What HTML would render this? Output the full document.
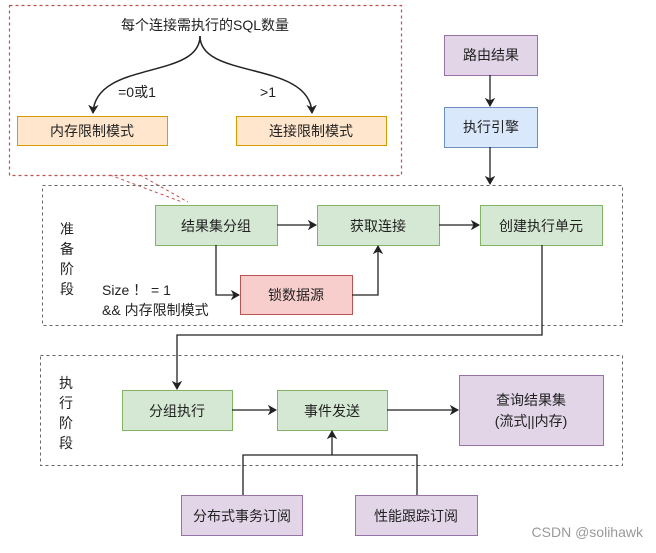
<!DOCTYPE html>
<html><head><meta charset="utf-8"><style>
body{margin:0;background:#fff;}
text{font-family:"Liberation Sans","Noto Sans CJK SC",sans-serif;font-size:14px;fill:#222;}
</style></head><body>
<svg width="656" height="548" viewBox="0 0 656 548" xmlns="http://www.w3.org/2000/svg">
<defs>
<marker id="a" markerWidth="10" markerHeight="10" refX="8" refY="5" orient="auto" markerUnits="userSpaceOnUse">
<path d="M1,1 L8,5 L1,9 L3,5 Z" fill="#222" stroke="#222" stroke-width="1"/></marker>
</defs>
<!-- red dashed box -->
<rect x="9.5" y="5.5" width="392" height="170" fill="none" stroke="#c0504d" stroke-dasharray="3,3" stroke-width="1.2"/>
<line x1="110" y1="175" x2="182" y2="202" stroke="#c0504d" stroke-dasharray="3,3"/>
<line x1="140" y1="175" x2="188" y2="202" stroke="#c0504d" stroke-dasharray="3,3"/>
<text x="205" y="30" text-anchor="middle" font-size="15">每个连接需执行的SQL数量</text>
<path d="M200,36 C200,80 95,60 93,113" fill="none" stroke="#222" stroke-width="1.5" marker-end="url(#a)"/>
<path d="M200,36 C200,80 310,60 312,113" fill="none" stroke="#222" stroke-width="1.5" marker-end="url(#a)"/>
<text x="137" y="97" text-anchor="middle">=0或1</text>
<text x="268" y="97" text-anchor="middle">&gt;1</text>
<rect x="17.5" y="116.5" width="150" height="29" fill="#ffe6cc" stroke="#d79b00"/>
<text x="92" y="136" text-anchor="middle">内存限制模式</text>
<rect x="236.5" y="116.5" width="150" height="29" fill="#ffe6cc" stroke="#d79b00"/>
<text x="311" y="136" text-anchor="middle">连接限制模式</text>
<!-- top right -->
<rect x="444.5" y="35.5" width="93" height="40" fill="#e1d5e7" stroke="#9673a6"/>
<text x="491" y="60" text-anchor="middle">路由结果</text>
<rect x="444.5" y="107.5" width="93" height="40" fill="#dae8fc" stroke="#6c8ebf"/>
<text x="491" y="132" text-anchor="middle">执行引擎</text>
<line x1="490" y1="75" x2="490" y2="106" stroke="#222" stroke-width="1.3" marker-end="url(#a)"/>
<line x1="490" y1="147" x2="490" y2="184" stroke="#222" stroke-width="1.3" marker-end="url(#a)"/>
<!-- prep stage -->
<rect x="42.5" y="185.5" width="580" height="140" fill="none" stroke="#666" stroke-dasharray="3,3"/>
<text x="67" y="234" text-anchor="middle">准</text>
<text x="67" y="254" text-anchor="middle">备</text>
<text x="67" y="274" text-anchor="middle">阶</text>
<text x="67" y="294" text-anchor="middle">段</text>
<rect x="155.5" y="205.5" width="122" height="40" fill="#d5e8d4" stroke="#82b366"/>
<text x="216" y="231" text-anchor="middle">结果集分组</text>
<rect x="317.5" y="205.5" width="122" height="40" fill="#d5e8d4" stroke="#82b366"/>
<text x="378" y="231" text-anchor="middle">获取连接</text>
<rect x="480.5" y="205.5" width="122" height="40" fill="#d5e8d4" stroke="#82b366"/>
<text x="541" y="231" text-anchor="middle">创建执行单元</text>
<rect x="240.5" y="275.5" width="112" height="39" fill="#f8cecc" stroke="#b85450"/>
<text x="296" y="300" text-anchor="middle">锁数据源</text>
<line x1="277" y1="225" x2="316" y2="225" stroke="#222" stroke-width="1.3" marker-end="url(#a)"/>
<line x1="439" y1="225" x2="479" y2="225" stroke="#222" stroke-width="1.3" marker-end="url(#a)"/>
<polyline points="216,245 216,295 239,295" fill="none" stroke="#222" stroke-width="1.3" marker-end="url(#a)"/>
<polyline points="352,295 378,295 378,246" fill="none" stroke="#222" stroke-width="1.3" marker-end="url(#a)"/>
<text x="102" y="295">Size ！ = 1</text>
<text x="102" y="315">&amp;&amp; 内存限制模式</text>
<polyline points="542,245 542,335 177,335 177,389" fill="none" stroke="#222" stroke-width="1.3" marker-end="url(#a)"/>
<!-- exec stage -->
<rect x="40.5" y="355.5" width="582" height="110" fill="none" stroke="#666" stroke-dasharray="3,3"/>
<text x="66" y="388" text-anchor="middle">执</text>
<text x="66" y="408" text-anchor="middle">行</text>
<text x="66" y="428" text-anchor="middle">阶</text>
<text x="66" y="448" text-anchor="middle">段</text>
<rect x="122.5" y="390.5" width="110" height="40" fill="#d5e8d4" stroke="#82b366"/>
<text x="177" y="416" text-anchor="middle">分组执行</text>
<rect x="277.5" y="390.5" width="110" height="40" fill="#d5e8d4" stroke="#82b366"/>
<text x="332" y="416" text-anchor="middle">事件发送</text>
<rect x="459.5" y="375.5" width="144" height="70" fill="#e1d5e7" stroke="#9673a6"/>
<text x="531" y="405" text-anchor="middle">查询结果集</text>
<text x="531" y="426" text-anchor="middle">(流式||内存)</text>
<line x1="232" y1="410" x2="276" y2="410" stroke="#222" stroke-width="1.3" marker-end="url(#a)"/>
<line x1="387" y1="410" x2="458" y2="410" stroke="#222" stroke-width="1.3" marker-end="url(#a)"/>
<polyline points="243,495 243,455 417,455 417,495" fill="none" stroke="#222" stroke-width="1.3"/>
<line x1="332" y1="455" x2="332" y2="431" stroke="#222" stroke-width="1.3" marker-end="url(#a)"/>
<rect x="181.5" y="495.5" width="121" height="40" fill="#e1d5e7" stroke="#9673a6"/>
<text x="242" y="521" text-anchor="middle">分布式事务订阅</text>
<rect x="355.5" y="495.5" width="122" height="40" fill="#e1d5e7" stroke="#9673a6"/>
<text x="416" y="521" text-anchor="middle">性能跟踪订阅</text>
<text x="643" y="537" text-anchor="end" font-size="12" style="fill:#999">CSDN @solihawk</text>
</svg>
</body></html>
